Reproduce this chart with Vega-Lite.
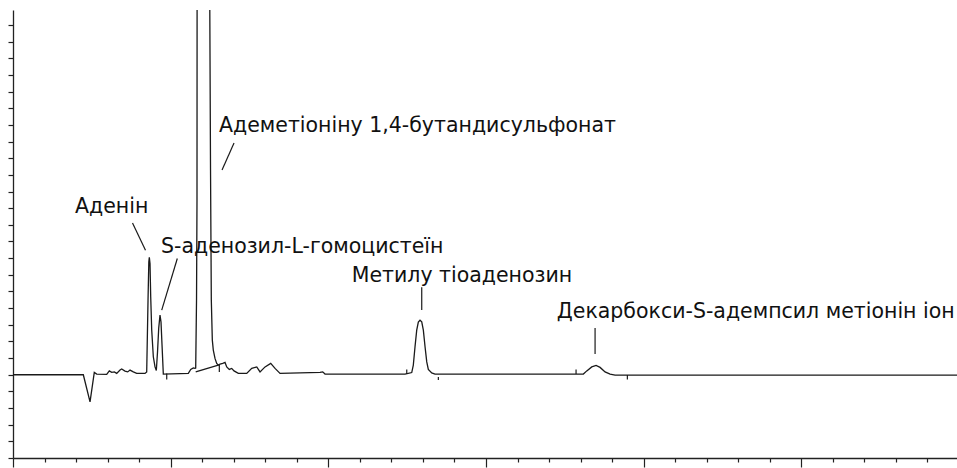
{
  "$schema": "https://vega.github.io/schema/vega-lite/v6.json",
  "width": 946,
  "height": 448,
  "autosize": {"type": "none"},
  "padding": {"left": 13, "top": 10, "right": 0, "bottom": 10},
  "background": "white",
  "config": {"view": {"stroke": null}},
  "datasets": {
    "curve": [
      {"s": "c", "t": 0, "y": 0},
      {"s": "c", "t": 2.23, "y": 0},
      {"s": "c", "t": 2.443, "y": -1.63},
      {"s": "c", "t": 2.578, "y": 0.14},
      {"s": "c", "t": 2.655, "y": 0.04},
      {"s": "c", "t": 2.972, "y": 0.02},
      {"s": "c", "t": 3.054, "y": 0.23},
      {"s": "c", "t": 3.13, "y": 0.14},
      {"s": "c", "t": 3.213, "y": 0.17},
      {"s": "c", "t": 3.289, "y": 0.08},
      {"s": "c", "t": 3.394, "y": 0.28},
      {"s": "c", "t": 3.447, "y": 0.34},
      {"s": "c", "t": 3.552, "y": 0.22},
      {"s": "c", "t": 3.638, "y": 0.17},
      {"s": "c", "t": 3.711, "y": 0.28},
      {"s": "c", "t": 3.815, "y": 0.17},
      {"s": "c", "t": 3.923, "y": 0.08},
      {"s": "c", "t": 4.186, "y": 0.08},
      {"s": "c", "t": 4.24, "y": 0.17},
      {"s": "c", "t": 4.282, "y": 4.48},
      {"s": "c", "t": 4.307, "y": 6.76},
      {"s": "c", "t": 4.323, "y": 7.05},
      {"s": "c", "t": 4.345, "y": 6.68},
      {"s": "c", "t": 4.367, "y": 4.68},
      {"s": "c", "t": 4.399, "y": 2.68},
      {"s": "c", "t": 4.45, "y": 1.08},
      {"s": "c", "t": 4.504, "y": 0.47},
      {"s": "c", "t": 4.545, "y": 0.25},
      {"s": "c", "t": 4.583, "y": 1.36},
      {"s": "c", "t": 4.621, "y": 2.8},
      {"s": "c", "t": 4.662, "y": 3.58},
      {"s": "c", "t": 4.694, "y": 3.16},
      {"s": "c", "t": 4.726, "y": 1.78},
      {"s": "c", "t": 4.767, "y": 0.04},
      {"s": "c", "t": 5.56, "y": 0.08},
      {"s": "c", "t": 5.636, "y": 0.32},
      {"s": "c", "t": 5.718, "y": 0.41},
      {"s": "c", "t": 5.772, "y": 0.38},
      {"s": "c", "t": 5.794, "y": 0.4},
      {"s": "c", "t": 5.82, "y": 4.48},
      {"s": "c", "t": 5.835, "y": 10.49},
      {"s": "c", "t": 5.838, "y": 21.9},
      {"s": "c", "t": 5.841, "y": 22.8},
      {"s": "c", "t": 6.041, "y": 40},
      {"s": "c", "t": 6.238, "y": 22.8},
      {"s": "c", "t": 6.241, "y": 21.9},
      {"s": "c", "t": 6.264, "y": 12.29},
      {"s": "c", "t": 6.289, "y": 4.48},
      {"s": "c", "t": 6.321, "y": 2.08},
      {"s": "c", "t": 6.352, "y": 1.48},
      {"s": "c", "t": 6.406, "y": 0.98},
      {"s": "c", "t": 6.46, "y": 0.68},
      {"s": "c", "t": 6.511, "y": 0.58},
      {"s": "c", "t": 6.565, "y": 0.64},
      {"s": "c", "t": 6.651, "y": 0.68},
      {"s": "c", "t": 6.724, "y": 0.74},
      {"s": "c", "t": 6.778, "y": 0.47},
      {"s": "c", "t": 6.86, "y": 0.32},
      {"s": "c", "t": 6.936, "y": 0.38},
      {"s": "c", "t": 7.009, "y": 0.23},
      {"s": "c", "t": 7.146, "y": 0.08},
      {"s": "c", "t": 7.412, "y": 0.08},
      {"s": "c", "t": 7.571, "y": 0.38},
      {"s": "c", "t": 7.73, "y": 0.47},
      {"s": "c", "t": 7.834, "y": 0.17},
      {"s": "c", "t": 7.993, "y": 0.47},
      {"s": "c", "t": 8.173, "y": 0.68},
      {"s": "c", "t": 8.31, "y": 0.38},
      {"s": "c", "t": 8.468, "y": 0.08},
      {"s": "c", "t": 9.737, "y": 0.14},
      {"s": "c", "t": 9.822, "y": 0.17},
      {"s": "c", "t": 9.895, "y": 0.04},
      {"s": "c", "t": 11.005, "y": 0.04},
      {"s": "c", "t": 12.432, "y": 0.04},
      {"s": "c", "t": 12.645, "y": 0.13},
      {"s": "c", "t": 12.695, "y": 0.58},
      {"s": "c", "t": 12.749, "y": 1.68},
      {"s": "c", "t": 12.803, "y": 2.68},
      {"s": "c", "t": 12.854, "y": 3.16},
      {"s": "c", "t": 12.908, "y": 3.28},
      {"s": "c", "t": 12.962, "y": 3.18},
      {"s": "c", "t": 13.013, "y": 2.68},
      {"s": "c", "t": 13.067, "y": 1.68},
      {"s": "c", "t": 13.121, "y": 0.77},
      {"s": "c", "t": 13.171, "y": 0.32},
      {"s": "c", "t": 13.279, "y": 0.11},
      {"s": "c", "t": 13.384, "y": 0.04},
      {"s": "c", "t": 18.088, "y": 0.04},
      {"s": "c", "t": 18.196, "y": 0.23},
      {"s": "c", "t": 18.354, "y": 0.47},
      {"s": "c", "t": 18.491, "y": 0.56},
      {"s": "c", "t": 18.618, "y": 0.44},
      {"s": "c", "t": 18.776, "y": 0.17},
      {"s": "c", "t": 18.935, "y": 0.04},
      {"s": "c", "t": 19.094, "y": -0.02},
      {"s": "c", "t": 29.94, "y": -0.02},
      {"s": "b", "t": 5.794, "y": 0.17},
      {"s": "b", "t": 6.511, "y": 0.58}
    ],
    "rules": [
      {"t": 4.875, "y": 0.07, "t2": 4.875, "y2": -0.29},
      {"t": 6.543, "y": 0.58, "t2": 6.543, "y2": 0.17},
      {"t": 12.487, "y": 0.32, "t2": 12.487, "y2": 0.04},
      {"t": 13.489, "y": -0.13, "t2": 13.489, "y2": -0.32},
      {"t": 17.856, "y": 0.32, "t2": 17.856, "y2": 0.04},
      {"t": 19.483, "y": -0.02, "t2": 19.483, "y2": -0.28},
      {"t": 3.79, "y": 9.11, "t2": 4.202, "y2": 7.48},
      {"t": 5.211, "y": 6.98, "t2": 4.716, "y2": 3.88},
      {"t": 7.009, "y": 13.91, "t2": 6.629, "y2": 12.29},
      {"t": 12.962, "y": 5.26, "t2": 12.962, "y2": 3.88},
      {"t": 18.459, "y": 2.8, "t2": 18.459, "y2": 1.24}
    ],
    "labels": [
      {"t": 1.966, "y": 9.72, "label": "Аденін"},
      {"t": 4.694, "y": 7.32, "label": "S-аденозил-L-гомоцистеїн"},
      {"t": 6.533, "y": 14.59, "label": "Адеметіоніну 1,4-бутандисульфонат"},
      {"t": 10.742, "y": 5.54, "label": "Метилу тіоаденозин"},
      {"t": 17.244, "y": 3.42, "label": "Декарбокси-S-адемпсил метіонін іон"}
    ]
  },
  "layer": [
    {
      "data": {"name": "curve"},
      "mark": {"type": "line", "clip": true, "color": "#1a1a1a", "strokeWidth": 1.3},
      "encoding": {
        "x": {
          "field": "t", "type": "quantitative",
          "scale": {"domain": [0, 30], "nice": false, "zero": false},
          "axis": {
            "title": null, "labels": false, "grid": false, "tickCount": 100,
            "values": [0,1,2,3,4,5,6,7,8,9,10,11,12,13,14,15,16,17,18,19,20,21,22,23,24,25,26,27,28,29],
            "domainColor": "#222222", "domainWidth": 1.3,
            "tickColor": "#222222", "tickWidth": 1.2,
            "tickSize": {"condition": {"test": "datum.value % 5 === 0", "value": 9}, "value": 4}
          }
        },
        "y": {
          "field": "y", "type": "quantitative",
          "scale": {"domain": [-5, 21.9], "nice": false, "zero": false},
          "axis": {
            "title": null, "labels": false, "grid": false, "tickCount": 100,
            "values": [-5,-4,-3,-2,-1,0,1,2,3,4,5,6,7,8,9,10,11,12,13,14,15,16,17,18,19,20,21],
            "domainColor": "#222222", "domainWidth": 1.3,
            "tickColor": "#222222", "tickWidth": 1.2, "tickSize": 5
          }
        },
        "detail": {"field": "s"}
      }
    },
    {
      "data": {"name": "rules"},
      "mark": {"type": "rule", "color": "#1a1a1a", "strokeWidth": 1.2},
      "encoding": {
        "x": {"field": "t", "type": "quantitative"},
        "y": {"field": "y", "type": "quantitative"},
        "x2": {"field": "t2"},
        "y2": {"field": "y2"}
      }
    },
    {
      "data": {"name": "labels"},
      "mark": {"type": "text", "align": "left", "baseline": "alphabetic", "font": "DejaVu Sans", "fontSize": 20.5, "color": "#111111"},
      "encoding": {
        "x": {"field": "t", "type": "quantitative"},
        "y": {"field": "y", "type": "quantitative"},
        "text": {"field": "label"}
      }
    }
  ]
}
